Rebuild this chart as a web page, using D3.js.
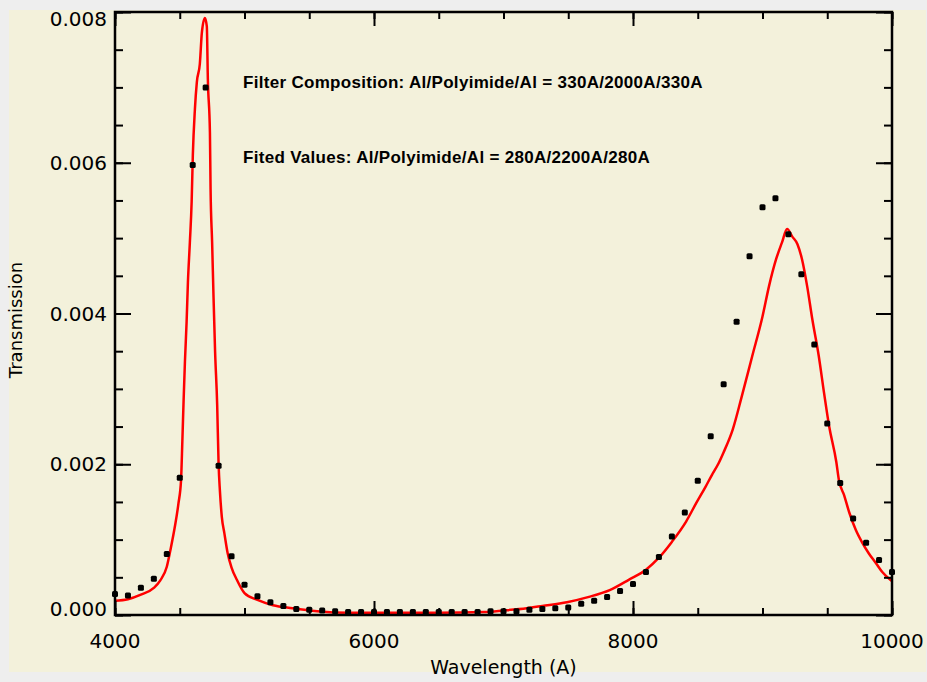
<!DOCTYPE html>
<html>
<head>
<meta charset="utf-8">
<script src="https://cdn.jsdelivr.net/npm/d3@7"></script>
<style>
  body { margin: 0; background: #eeeeee; }
  svg { display: block; }
</style>
</head>
<body>
<script>
// measured transmission, one point every 100 A
var measWave = [4000,4100,4200,4300,4400,4500,4600,4700,4800,4900,
                5000,5100,5200,5300,5400,5500,5600,5700,5800,5900,
                6000,6100,6200,6300,6400,6500,6600,6700,6800,6900,
                7000,7100,7200,7300,7400,7500,7600,7700,7800,7900,
                8000,8100,8200,8300,8400,8500,8600,8700,8800,8900,
                9000,9100,9200,9300,9400,9500,9600,9700,9800,9900,10000];
var measTrans = [0.00028,0.00026,0.00036,0.00048,0.00081,0.00182,0.00597,0.00700,0.00198,0.00078,
                 0.00040,0.00025,0.00017,0.00012,0.00008,0.00007,0.00006,0.00005,0.00004,0.00004,
                 0.00004,0.00004,0.00004,0.00004,0.00004,0.00004,0.00004,0.00004,0.00004,0.00005,
                 0.00005,0.00005,0.00007,0.00008,0.00009,0.00010,0.00015,0.00019,0.00024,0.00032,
                 0.00041,0.00057,0.00077,0.00104,0.00136,0.00178,0.00237,0.00306,0.00389,0.00476,
                 0.00541,0.00553,0.00505,0.00452,0.00359,0.00254,0.00175,0.00128,0.00096,0.00073,0.00057];

// fitted model curve
var fitWave = [4000,4100,4200,4300,4350,4400,4430,4460,4490,4510,
               4520,4530,4540,4553,4563,4578,4592,4601,4617,4632,
               4655,4671,4694,4709,4717,4733,4738,4750,4761,4773,
               4789,4800,4810,4825,4845,4870,4900,4940,5000,5100,
               5220,5370,5560,5810,6000,6500,6850,7000,7180,7300,
               7490,7660,7820,7970,8100,8200,8300,8410,8490,8560,
               8610,8660,8700,8770,8840,8920,9000,9050,9105,9150,
               9190,9230,9270,9305,9345,9385,9435,9475,9515,9570,
               9590,9630,9670,9720,9770,9820,9875,9925,9985,10000];
var fitTrans = [0.00019,0.00021,0.00027,0.00036,0.00046,0.00064,0.00088,0.00115,0.00148,0.00179,
                0.00230,0.00286,0.00336,0.00389,0.00441,0.00494,0.00549,0.00610,0.00671,0.00707,
                0.00731,0.00773,0.00792,0.00781,0.00711,0.00640,0.00565,0.00494,0.00421,0.00349,
                0.00279,0.00200,0.00165,0.00130,0.00108,0.00082,0.00063,0.00047,0.00029,0.00020,
                0.00013,0.00009,0.00005,0.00003,0.00003,0.00003,0.00004,0.00006,0.00009,0.00012,
                0.00017,0.00024,0.00033,0.00047,0.00060,0.00076,0.00097,0.00124,0.00149,0.00170,
                0.00186,0.00201,0.00216,0.00246,0.00290,0.00343,0.00396,0.00436,0.00472,0.00494,
                0.00512,0.00502,0.00492,0.00472,0.00436,0.00392,0.00343,0.00295,0.00250,0.00203,
                0.00179,0.00159,0.00136,0.00113,0.00096,0.00082,0.00069,0.00057,0.00047,0.00045];

// ticks
var xMajorTicks = [4000, 6000, 8000, 10000];
var xMinorTicks = [4000,4500,5000,5500,6000,6500,7000,7500,8000,8500,9000,9500,10000];
var yMajorTicks = [0, 0.002, 0.004, 0.006, 0.008];
var yMinorTicks = [0,0.0005,0.001,0.0015,0.002,0.0025,0.003,0.0035,0.004,0.0045,0.005,0.0055,0.006,0.0065,0.007,0.0075,0.008];

var notes = ["Filter Composition: Al/Polyimide/Al = 330A/2000A/330A",
             "Fited Values: Al/Polyimide/Al = 280A/2200A/280A"];

// set the dimensions and margins of the graph
var W = 927, H = 682;
var margin = {top: 12, right: 35, bottom: 67, left: 115},
    width = W - margin.left - margin.right,
    height = H - margin.top - margin.bottom;

var x = d3.scaleLinear().domain([4000, 10000]).range([0, width]);
var y = d3.scaleLinear().domain([0, 0.008]).range([height, 0]);

var svg = d3.select("body").append("svg")
    .attr("width", W)
    .attr("height", H);

// cream panel
svg.append("rect")
    .attr("x", 9).attr("y", 10)
    .attr("width", 917).attr("height", 662)
    .attr("fill", "#f3f1db");

var g = svg.append("g")
    .attr("transform", "translate(" + margin.left + "," + margin.top + ")");

g.append("clipPath").attr("id", "clip")
  .append("rect").attr("width", width).attr("height", height);

// fitted curve
var fitData = fitWave.map(function(w, i) { return {w: w, t: fitTrans[i]}; });
var fitLine = d3.line()
    .x(function(d) { return x(d.w); })
    .y(function(d) { return y(d.t); })
    .curve(d3.curveMonotoneX);

g.append("path")
    .datum(fitData)
    .attr("clip-path", "url(#clip)")
    .attr("fill", "none")
    .attr("stroke", "#ff0000")
    .attr("stroke-width", 2.5)
    .attr("d", fitLine);

// measured points
var measData = measWave.map(function(w, i) { return {w: w, t: measTrans[i]}; });
g.selectAll(".pt")
    .data(measData)
  .enter().append("rect")
    .attr("class", "pt")
    .attr("x", function(d) { return x(d.w) - 3; })
    .attr("y", function(d) { return y(d.t) - 3; })
    .attr("width", 6).attr("height", 6)
    .attr("rx", 1.5)
    .attr("fill", "#000");

// axes: minor + major ticks on all four sides
function styleAxis(sel) {
  sel.select(".domain").remove();
  sel.selectAll(".tick line").attr("stroke", "#000").attr("stroke-width", 2);
  sel.selectAll(".tick text").remove();
}
g.append("g").attr("transform", "translate(0," + height + ")")
    .call(d3.axisBottom(x).tickValues(xMinorTicks).tickSize(-7)).call(styleAxis);
g.append("g").attr("transform", "translate(0," + height + ")")
    .call(d3.axisBottom(x).tickValues(xMajorTicks).tickSize(-14)).call(styleAxis);
g.append("g")
    .call(d3.axisTop(x).tickValues(xMinorTicks).tickSize(-7)).call(styleAxis);
g.append("g")
    .call(d3.axisTop(x).tickValues(xMajorTicks).tickSize(-14)).call(styleAxis);
g.append("g")
    .call(d3.axisLeft(y).tickValues(yMinorTicks).tickSize(-8)).call(styleAxis);
g.append("g")
    .call(d3.axisLeft(y).tickValues(yMajorTicks).tickSize(-16)).call(styleAxis);
g.append("g").attr("transform", "translate(" + width + ",0)")
    .call(d3.axisRight(y).tickValues(yMinorTicks).tickSize(-8)).call(styleAxis);
g.append("g").attr("transform", "translate(" + width + ",0)")
    .call(d3.axisRight(y).tickValues(yMajorTicks).tickSize(-16)).call(styleAxis);

// frame
g.append("rect")
    .attr("width", width).attr("height", height)
    .attr("fill", "none")
    .attr("stroke", "#000")
    .attr("stroke-width", 2.5);

// tick labels
var labelFont = "'DejaVu Sans', sans-serif";
g.selectAll(".xlab")
    .data(xMajorTicks)
  .enter().append("text")
    .attr("x", function(d) { return x(d); })
    .attr("y", height + 33)
    .attr("text-anchor", "middle")
    .style("font-family", labelFont)
    .style("font-size", "20px")
    .text(function(d) { return d; });

g.selectAll(".ylab")
    .data(yMajorTicks)
  .enter().append("text")
    .attr("x", -8)
    .attr("y", function(d) { return Math.min(Math.max(y(d), 7), height - 6); })
    .attr("dy", "0.36em")
    .attr("text-anchor", "end")
    .style("font-family", labelFont)
    .style("font-size", "20px")
    .text(function(d) { return d3.format(".3f")(d); });

// axis titles
g.append("text")
    .attr("x", width / 2)
    .attr("y", height + 59)
    .attr("text-anchor", "middle")
    .style("font-family", labelFont)
    .style("font-size", "19px")
    .text("Wavelength (A)");

svg.append("text")
    .attr("transform", "translate(22,320) rotate(-90)")
    .attr("text-anchor", "middle")
    .style("font-family", labelFont)
    .style("font-size", "18px")
    .text("Transmission");

// annotations
svg.selectAll(".note")
    .data(notes)
  .enter().append("text")
    .attr("x", 243)
    .attr("y", function(d, i) { return 88 + i * 75; })
    .style("font-family", "'Liberation Sans', sans-serif")
    .style("font-weight", "bold")
    .style("font-size", "17px")
    .style("letter-spacing", "0.3px")
    .text(function(d) { return d; });
</script>
</body>
</html>
